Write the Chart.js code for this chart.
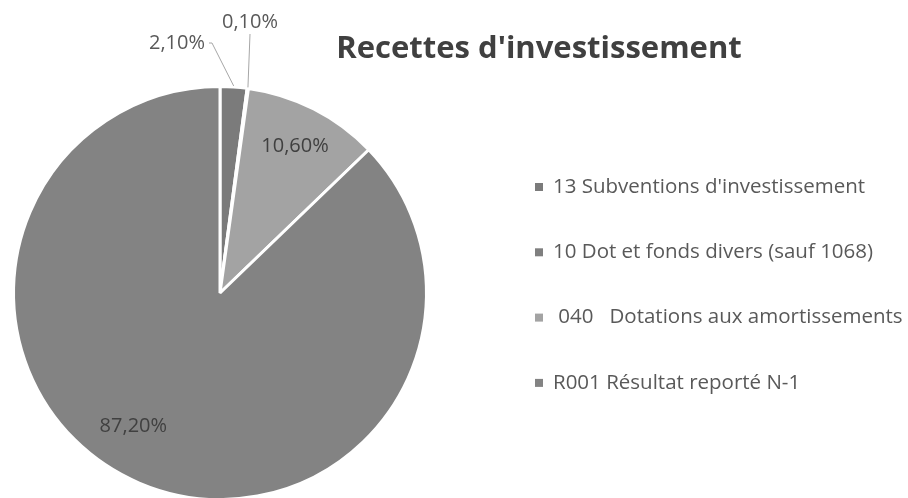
<!DOCTYPE html>
<html>
<head>
<meta charset="utf-8">
<script src="https://cdn.jsdelivr.net/npm/chart.js@4.4.0/dist/chart.umd.min.js"></script>
<style>
  html, body { margin: 0; padding: 0; background: #fff; overflow: hidden; }
  #wrap { position: relative; width: 908px; height: 510px; }
</style>
</head>
<body>
<div id="wrap"><canvas id="chart"></canvas></div>
<script>
const TITRE = "Recettes d'investissement";
const LIBELLES = [
  "13 Subventions d'investissement",
  "10 Dot et fonds divers (sauf 1068)",
  " 040   Dotations aux amortissements",
  "R001 Résultat reporté N-1"
];
const VALEURS = [2.1, 0.1, 10.6, 87.2];
const COULEURS = ['#7b7b7b', '#7f7f7f', '#a3a3a3', '#838383'];

const FONT = "'Open Sans', sans-serif";

// placement des étiquettes (relatif au centre du camembert)
// in: distance en fraction du rayon ; out: position du texte + coude de la ligne de rappel
const ETIQ = [
  { out: true, x: -43, y: -250, ex: -8, ey: -250 },
  { out: true, x: 30, y: -271, ex: 30, ey: -259 },
  { r: 0.8 },
  { r: 0.77, da: 10 }
];

const fmt = v => v.toFixed(2).replace('.', ',') + '%';

const decor = {
  id: 'decor',
  afterDatasetsDraw(chart) {
    const ctx = chart.ctx;
    const arcs = chart.getDatasetMeta(0).data;
    ctx.save();
    ctx.textBaseline = 'middle';
    ctx.textAlign = 'center';
    ctx.font = '20px ' + FONT;

    arcs.forEach((arc, i) => {
      const p = arc.getProps(['x', 'y', 'startAngle', 'endAngle', 'outerRadius']);
      const cfg = ETIQ[i];
      let mid = (p.startAngle + p.endAngle) / 2;
      const txt = fmt(VALEURS[i]);
      if (cfg.out) {
        const ox = p.x + Math.cos(mid) * (p.outerRadius + 1);
        const oy = p.y + Math.sin(mid) * (p.outerRadius + 1);
        const lx = p.x + cfg.x, ly = p.y + cfg.y;
        const w = ctx.measureText(txt).width;
        ctx.strokeStyle = '#a6a6a6';
        ctx.lineWidth = 1;
        ctx.beginPath();
        ctx.moveTo(ox, oy);
        ctx.lineTo(p.x + cfg.ex, p.y + cfg.ey);
        if (cfg.ex > cfg.x) ctx.lineTo(lx + w / 2 + 4, ly);
        ctx.stroke();
        ctx.fillStyle = '#595959';
        ctx.fillText(txt, lx, ly);
      } else {
        if (cfg.da) mid += cfg.da * Math.PI / 180;
        const d = p.outerRadius * cfg.r;
        ctx.fillStyle = '#404040';
        ctx.fillText(txt, p.x + Math.cos(mid) * d, p.y + Math.sin(mid) * d);
      }
    });

    // titre
    ctx.fillStyle = '#404040';
    ctx.font = 'bold 31px ' + FONT;
    ctx.textBaseline = 'alphabetic';
    ctx.fillText(TITRE, 539, 58);

    // légende
    ctx.textAlign = 'left';
    ctx.textBaseline = 'middle';
    ctx.font = '20.5px ' + FONT;
    chart.data.labels.forEach((lab, i) => {
      const y = 187 + i * 65.3;
      ctx.fillStyle = COULEURS[i];
      ctx.fillRect(535, y - 4, 8, 8);
      ctx.fillStyle = '#595959';
      ctx.fillText(lab, 553, y);
    });
    ctx.restore();
  }
};

new Chart(document.getElementById('chart'), {
  type: 'pie',
  data: {
    labels: LIBELLES,
    datasets: [{
      data: VALEURS,
      backgroundColor: COULEURS,
      borderColor: '#ffffff',
      borderWidth: 3
    }]
  },
  options: {
    responsive: true,
    maintainAspectRatio: false,
    animation: false,
    events: [],
    layout: { padding: { top: 85, left: 12, right: 480, bottom: 9 } },
    plugins: {
      legend: { display: false },
      title: { display: false },
      tooltip: { enabled: false }
    }
  },
  plugins: [decor]
});
</script>
</body>
</html>
